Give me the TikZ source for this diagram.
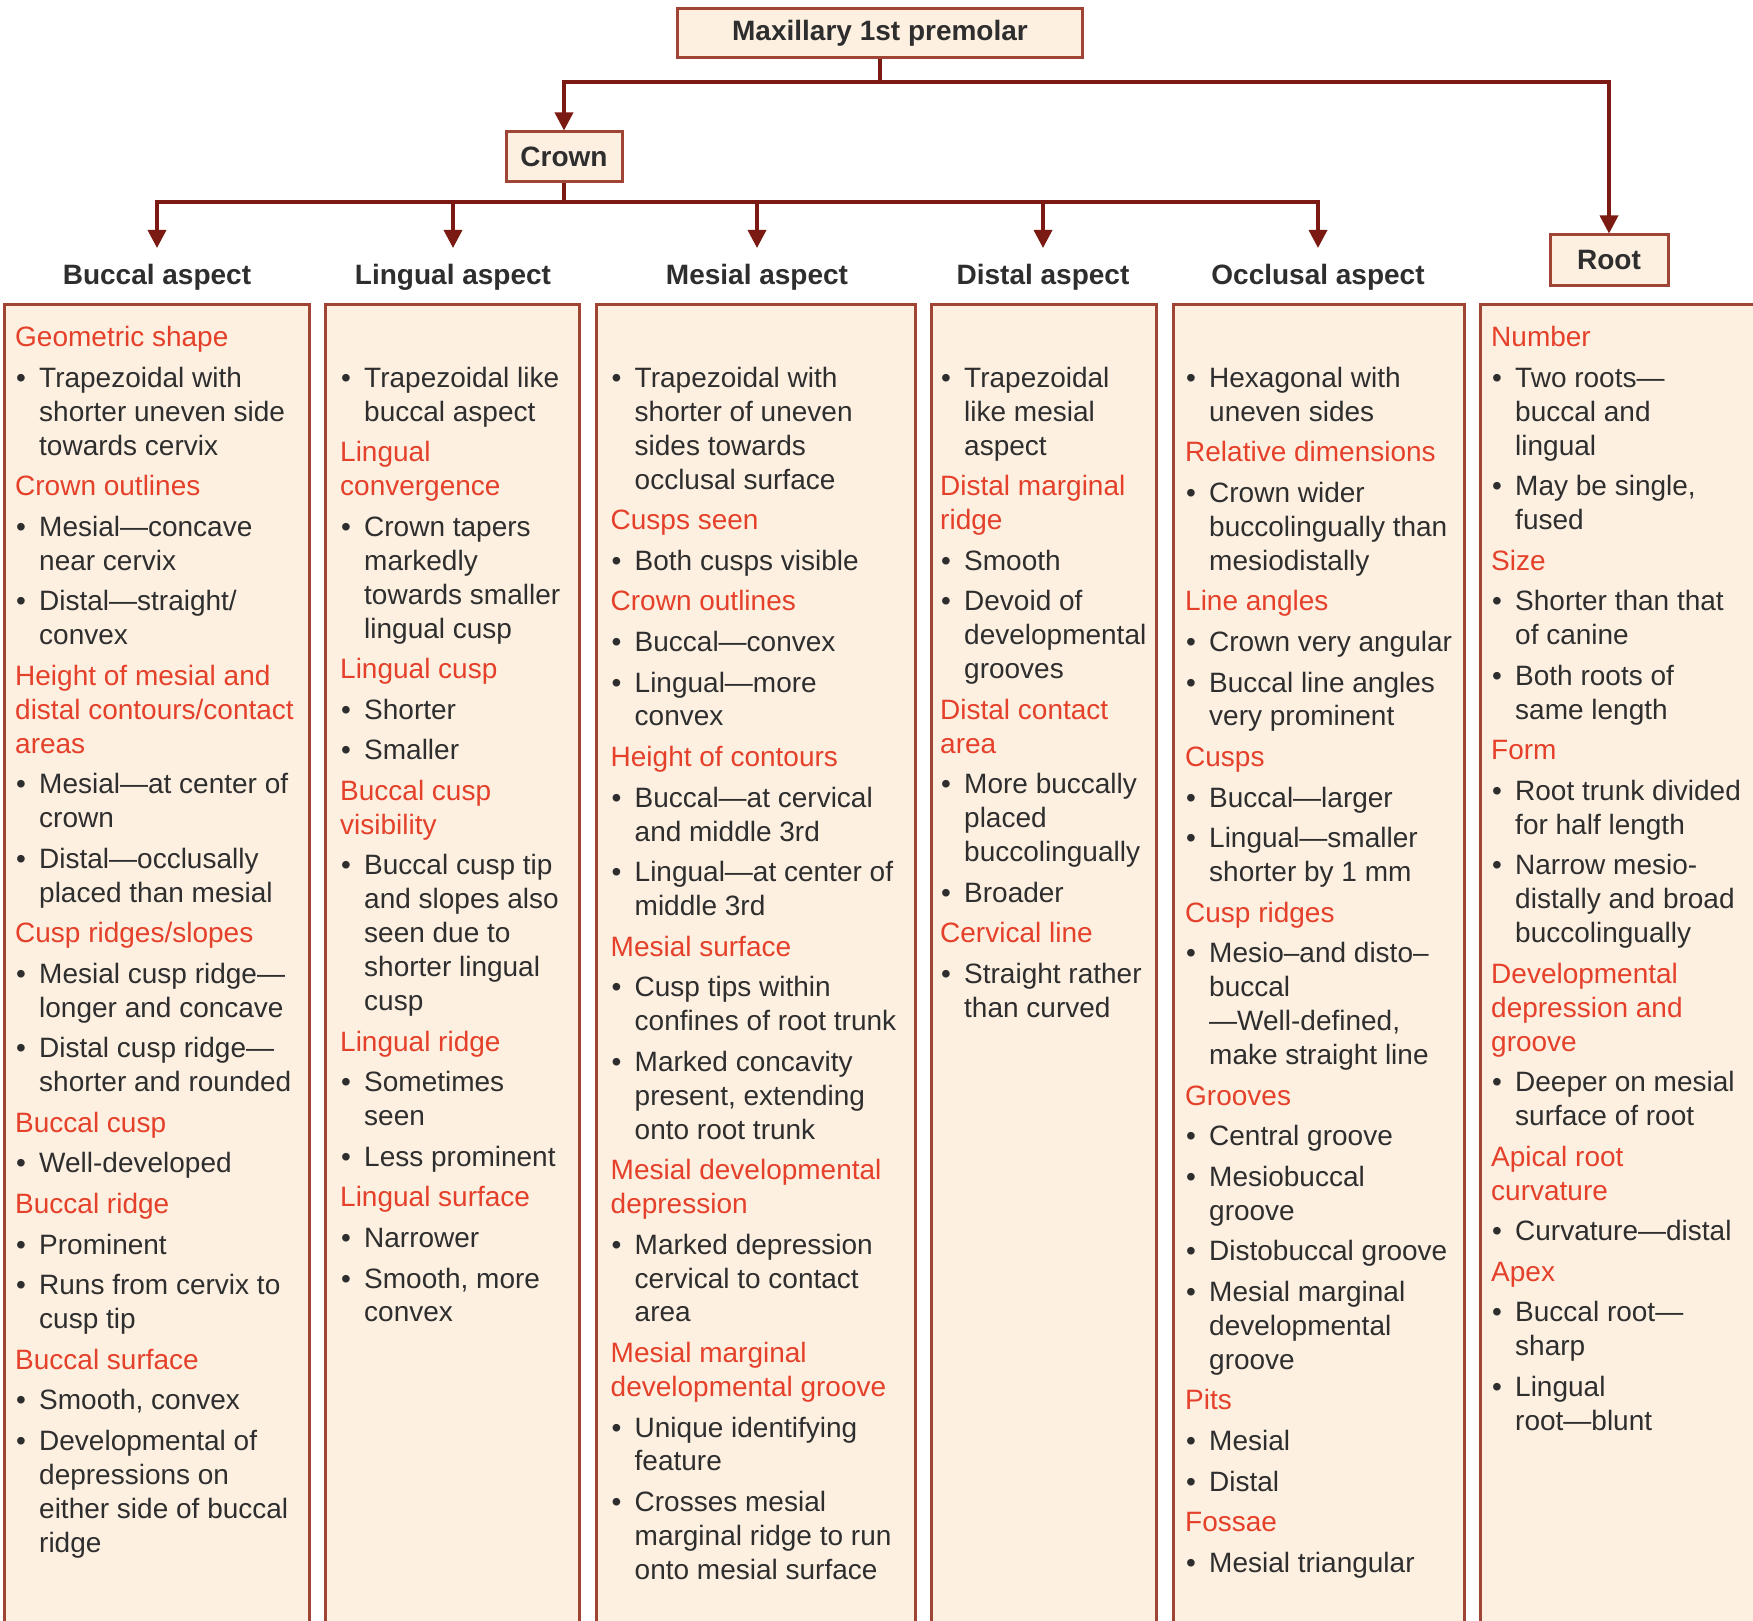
\documentclass[tikz,border=0pt]{standalone}
\usepackage{fontspec}
\setmainfont{Liberation Sans}
\usepackage{graphicx}
\usetikzlibrary{arrows.meta}
\definecolor{boxfill}{HTML}{FDF0E1}
\definecolor{boxline}{HTML}{A04535}
\definecolor{connc}{HTML}{7A1A12}
\definecolor{hdred}{HTML}{E4402A}
\definecolor{txt}{HTML}{2E2E2E}
\newlength\pg
\setlength\pg{6.7pt}
\newcommand\hd[1]{\textcolor{hdred}{\strut #1}}
\newcommand\bl{\strut\makebox[24pt][l]{\hspace{1pt}•}}
\newcommand\ind{\hspace*{24pt}}
\begin{document}
\begin{tikzpicture}[x=1pt,y=-1pt,
  tbox/.style={draw=boxline, line width=3pt, fill=boxfill, font=\fontsize{28}{33.9}\selectfont\bfseries, text=txt, inner sep=0pt},
  hdr/.style={font=\fontsize{28}{33.9}\selectfont\bfseries, text=txt, inner xsep=0pt, inner ysep=14pt, text height=22pt, text depth=6pt, anchor=north},
  colbox/.style={draw=boxline, line width=3pt, fill=boxfill},
  coltext/.style={anchor=north west, inner sep=0pt, align=left, font=\fontsize{28}{33.9}\selectfont, text=txt},
  link/.style={draw=connc, line width=3.5pt},
  arr/.style={link, -{Triangle[width=18pt,length=18pt]}},
]
\clip (0,0) rectangle (1753,1621);
\fill[white] (0,0) rectangle (1753,1621);

% column boxes
\draw[colbox] (4.5,304) rectangle (309,1680);
\draw[colbox] (325,304) rectangle (579,1680);
\draw[colbox] (596,304) rectangle (915,1680);
\draw[colbox] (931,304) rectangle (1156,1680);
\draw[colbox] (1173,304) rectangle (1464,1680);
\draw[colbox] (1480,304) rectangle (1800,1680);

% title boxes
\node[tbox, minimum width=405pt, minimum height=49pt] (top) at (880,33.5) {Maxillary 1st premolar};
\node[tbox, minimum width=116pt, minimum height=50pt] (crown) at (564,157) {Crown};
\node[tbox, minimum width=118pt, minimum height=51pt] (root) at (1609,260.5) {Root};

% headers
\node[hdr] (h1) at (157,248) {Buccal aspect};
\node[hdr] (h2) at (453,248) {Lingual aspect};
\node[hdr] (h3) at (757,248) {Mesial aspect};
\node[hdr] (h4) at (1043,248) {Distal aspect};
\node[hdr] (h5) at (1318,248) {Occlusal aspect};

% connectors
\coordinate (bus0) at (880,82);
\coordinate (bus1) at (564,202);
\draw[link] (top.south) -- (top.south |- bus0);
\draw[arr] (root.north |- bus0) -| (crown.north);
\draw[arr] (crown.north |- bus0) -| (root.north);
\draw[link] (crown.south) -- (crown.south |- bus1);
\draw[arr] (h3.north |- bus1) -| (h1.north);
\draw[arr] (h3.north |- bus1) -| (h5.north);
\draw[arr] (h2.north |- bus1) -- (h2.north);
\draw[arr] (h3.north |- bus1) -- (h3.north);
\draw[arr] (h4.north |- bus1) -- (h4.north);

% column 1
\node[coltext] (c1) at (15,322.8) {%
\hd{Geometric shape}\\[\pg]
\bl Trapezoidal with\\ \ind shorter uneven side\\ \ind towards cervix\\[\pg]
\hd{Crown outlines}\\[\pg]
\bl Mesial—concave\\ \ind near cervix\\[\pg]
\bl Distal—straight/\\ \ind convex\\[\pg]
\hd{Height of mesial and}\\ \hd{distal contours/contact}\\ \hd{areas}\\[\pg]
\bl Mesial—at center of\\ \ind crown\\[\pg]
\bl Distal—occlusally\\ \ind placed than mesial\\[\pg]
\hd{Cusp ridges/slopes}\\[\pg]
\bl Mesial cusp ridge—\\ \ind longer and concave\\[\pg]
\bl Distal cusp ridge—\\ \ind shorter and rounded\\[\pg]
\hd{Buccal cusp}\\[\pg]
\bl Well-developed\\[\pg]
\hd{Buccal ridge}\\[\pg]
\bl Prominent\\[\pg]
\bl Runs from cervix to\\ \ind cusp tip\\[\pg]
\hd{Buccal surface}\\[\pg]
\bl Smooth, convex\\[\pg]
\bl Developmental of\\ \ind depressions on\\ \ind either side of buccal\\ \ind ridge};

% column 2
\node[coltext] (c2) at (340,363.4) {%
\bl Trapezoidal like\\ \ind buccal aspect\\[\pg]
\hd{Lingual}\\ \hd{convergence}\\[\pg]
\bl Crown tapers\\ \ind markedly\\ \ind towards smaller\\ \ind lingual cusp\\[\pg]
\hd{Lingual cusp}\\[\pg]
\bl Shorter\\[\pg]
\bl Smaller\\[\pg]
\hd{Buccal cusp}\\ \hd{visibility}\\[\pg]
\bl Buccal cusp tip\\ \ind and slopes also\\ \ind seen due to\\ \ind shorter lingual\\ \ind cusp\\[\pg]
\hd{Lingual ridge}\\[\pg]
\bl Sometimes\\ \ind seen\\[\pg]
\bl Less prominent\\[\pg]
\hd{Lingual surface}\\[\pg]
\bl Narrower\\[\pg]
\bl Smooth, more\\ \ind convex};

% column 3
\node[coltext] (c3) at (610.5,363.4) {%
\bl Trapezoidal with\\ \ind shorter of uneven\\ \ind sides towards\\ \ind occlusal surface\\[\pg]
\hd{Cusps seen}\\[\pg]
\bl Both cusps visible\\[\pg]
\hd{Crown outlines}\\[\pg]
\bl Buccal—convex\\[\pg]
\bl Lingual—more\\ \ind convex\\[\pg]
\hd{Height of contours}\\[\pg]
\bl Buccal—at cervical\\ \ind and middle 3rd\\[\pg]
\bl Lingual—at center of\\ \ind middle 3rd\\[\pg]
\hd{Mesial surface}\\[\pg]
\bl Cusp tips within\\ \ind confines of root trunk\\[\pg]
\bl Marked concavity\\ \ind present, extending\\ \ind onto root trunk\\[\pg]
\hd{Mesial developmental}\\ \hd{depression}\\[\pg]
\bl Marked depression\\ \ind cervical to contact\\ \ind area\\[\pg]
\hd{Mesial marginal}\\ \hd{developmental groove}\\[\pg]
\bl Unique identifying\\ \ind feature\\[\pg]
\bl Crosses mesial\\ \ind marginal ridge to run\\ \ind onto mesial surface};

% column 4
\node[coltext] (c4) at (940,363.4) {%
\bl Trapezoidal\\ \ind like mesial\\ \ind aspect\\[\pg]
\hd{Distal marginal}\\ \hd{ridge}\\[\pg]
\bl Smooth\\[\pg]
\bl Devoid of\\ \ind developmental\\ \ind grooves\\[\pg]
\hd{Distal contact}\\ \hd{area}\\[\pg]
\bl More buccally\\ \ind placed\\ \ind buccolingually\\[\pg]
\bl Broader\\[\pg]
\hd{Cervical line}\\[\pg]
\bl Straight rather\\ \ind than curved};

% column 5
\node[coltext] (c5) at (1185,363.4) {%
\bl Hexagonal with\\ \ind uneven sides\\[\pg]
\hd{Relative dimensions}\\[\pg]
\bl Crown wider\\ \ind buccolingually than\\ \ind mesiodistally\\[\pg]
\hd{Line angles}\\[\pg]
\bl Crown very angular\\[\pg]
\bl Buccal line angles\\ \ind very prominent\\[\pg]
\hd{Cusps}\\[\pg]
\bl Buccal—larger\\[\pg]
\bl Lingual—smaller\\ \ind shorter by 1 mm\\[\pg]
\hd{Cusp ridges}\\[\pg]
\bl Mesio–and disto–\\ \ind buccal\\ \ind —Well-defined,\\ \ind make straight line\\[\pg]
\hd{Grooves}\\[\pg]
\bl Central groove\\[\pg]
\bl Mesiobuccal\\ \ind groove\\[\pg]
\bl Distobuccal groove\\[\pg]
\bl Mesial marginal\\ \ind developmental\\ \ind groove\\[\pg]
\hd{Pits}\\[\pg]
\bl Mesial\\[\pg]
\bl Distal\\[\pg]
\hd{Fossae}\\[\pg]
\bl Mesial triangular};

% column 6
\node[coltext] (c6) at (1491,322.8) {%
\hd{Number}\\[\pg]
\bl Two roots—\\ \ind buccal and\\ \ind lingual\\[\pg]
\bl May be single,\\ \ind fused\\[\pg]
\hd{Size}\\[\pg]
\bl Shorter than that\\ \ind of canine\\[\pg]
\bl Both roots of\\ \ind same length\\[\pg]
\hd{Form}\\[\pg]
\bl Root trunk divided\\ \ind for half length\\[\pg]
\bl Narrow mesio-\\ \ind distally and broad\\ \ind buccolingually\\[\pg]
\hd{Developmental}\\ \hd{depression and}\\ \hd{groove}\\[\pg]
\bl Deeper on mesial\\ \ind surface of root\\[\pg]
\hd{Apical root}\\ \hd{curvature}\\[\pg]
\bl Curvature—distal\\[\pg]
\hd{Apex}\\[\pg]
\bl Buccal root—\\ \ind sharp\\[\pg]
\bl Lingual\\ \ind root—blunt};
\end{tikzpicture}
\end{document}
